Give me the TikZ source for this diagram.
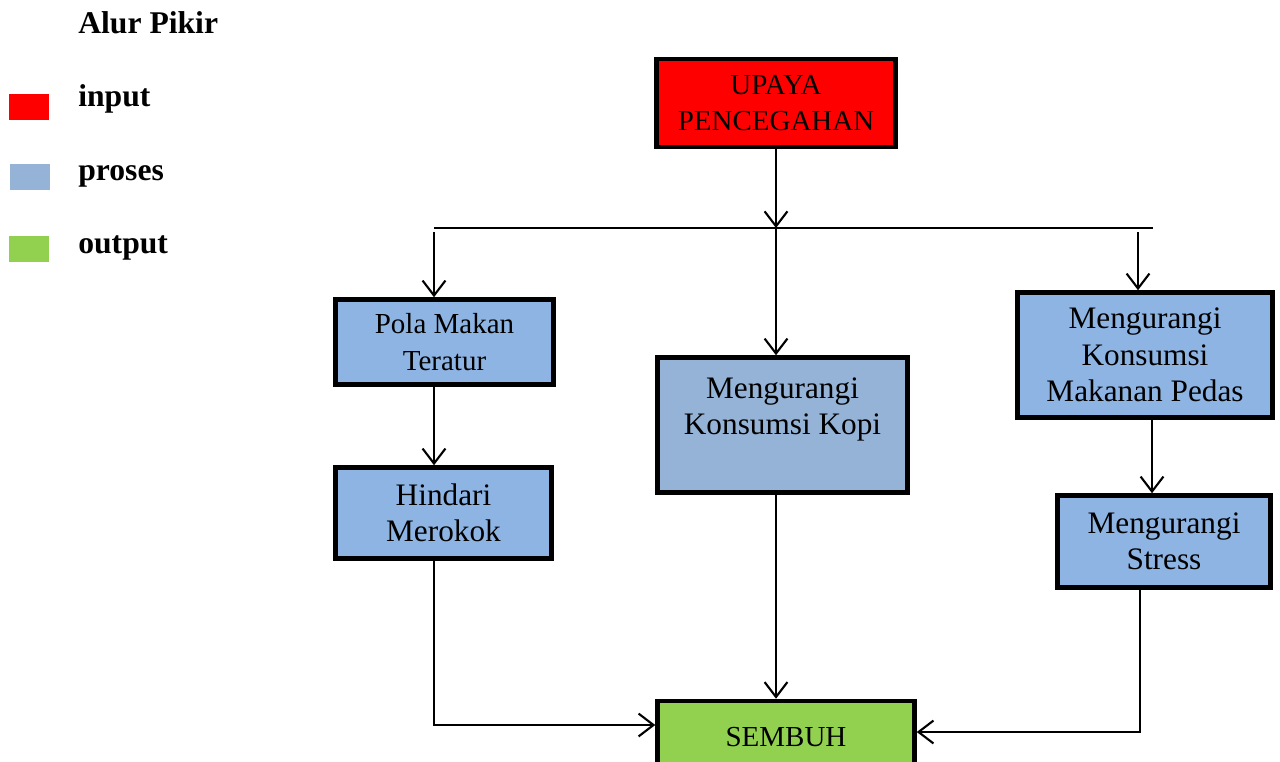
\documentclass[tikz,border=0pt]{standalone}
\usepackage{fontspec}
\setmainfont{Liberation Serif}
\usetikzlibrary{positioning, calc, arrows.meta}
\definecolor{xred}{HTML}{FF0000}
\definecolor{xblue}{HTML}{8DB4E2}
\definecolor{xgrey}{HTML}{95B3D7}
\definecolor{xgreen}{HTML}{92D050}
\tikzset{
	box/.style={draw, line width=2.6pt, align=center, inner sep=0pt},
	boxS/.style={box, font=\fontsize{16.5}{20.8}\selectfont},
	boxL/.style={box, font=\fontsize{17.8}{20.8}\selectfont},
	flow/.style={line width=1.2pt, -{Straight Barb[length=8.5pt, width=13pt]}},
	plain/.style={line width=1.2pt},
	legbox/.style={minimum width=0.8cm, minimum height=0.52cm, inner sep=0pt},
	legtext/.style={anchor=base west, inner sep=0pt, font=\bfseries\fontsize{18}{22}\selectfont},
}

\begin{document}
\begin{tikzpicture}[x=0.02cm, y=-0.02cm]
		\useasboundingbox (0,0) rectangle (1280,761);

		% legend
		\node[legtext] (title) at (78,33) {Alur Pikir};
		\node[legbox, fill=xred] (kin) at (29,107) {};
		\node[legbox, fill=xgrey] (kpro) at (30,177) {};
		\node[legbox, fill=xgreen] (kout) at (29,249) {};
		\node[legtext] (tin) at (78,106) {input};
		\node[legtext] (tpro) at (78,180) {proses};
		\node[legtext] (tout) at (78,253) {output};

		% boxes
		\node[boxS, fill=xred, minimum width=4.78cm, minimum height=1.76cm] (upaya) at (776,103) {UPAYA\\PENCEGAHAN};
		\node[boxS, fill=xblue, minimum width=4.36cm, minimum height=1.70cm] (pola) at (444.5,342) {Pola Makan\\Teratur};
		\node[boxL, fill=xblue, minimum width=4.32cm, minimum height=1.82cm] (hindari) at (443.5,513) {Hindari\\Merokok};
		\node[boxL, fill=xgrey, minimum width=5.0cm, minimum height=2.7cm] (kopi) at (782.5,425) {Mengurangi\\Konsumsi Kopi\\[-5.6pt]\strut};
		\node[boxL, fill=xblue, minimum width=5.1cm, minimum height=2.5cm] (makanan) at (1145,355) {Mengurangi\\Konsumsi\\Makanan Pedas};
		\node[boxL, fill=xblue, minimum width=4.26cm, minimum height=1.84cm] (stress) at (1164,541.5) {Mengurangi\\Stress};
		\node[boxS, fill=xgreen, minimum width=5.14cm, minimum height=1.44cm] (sembuh) at (786,737) {SEMBUH};

		% connectors
		\coordinate (bL) at (434,228);
		\coordinate (bR) at (1153,228);
		\coordinate (bM) at (1138,228);
		\coordinate (sx) at (1152,0);
		\coordinate (jL) at (434,725);
		\coordinate (jR) at (1140,732);
		\draw[plain] (bL) -- (bR);
		\draw[flow] (upaya.south) -- (upaya.south |- bL);
		\draw[flow] ($(bL)+(0,4)$) -- (bL |- pola.north);
		\draw[flow] (upaya.south |- bL) -- (upaya.south |- kopi.north);
		\draw[flow] ($(bM)+(0,4)$) -- (bM |- makanan.north);
		\draw[flow] (bL |- pola.south) -- (bL |- hindari.north);
		\draw[flow] (sx |- makanan.south) -- (sx |- stress.north);
		\draw[flow] (upaya.south |- kopi.south) -- (upaya.south |- sembuh.north);
		\draw[flow] (bL |- hindari.south) -- (jL) -- (jL -| sembuh.west);
		\draw[flow] (jR |- stress.south) -- (jR) -- (jR -| sembuh.east);
	\end{tikzpicture}
\end{document}
